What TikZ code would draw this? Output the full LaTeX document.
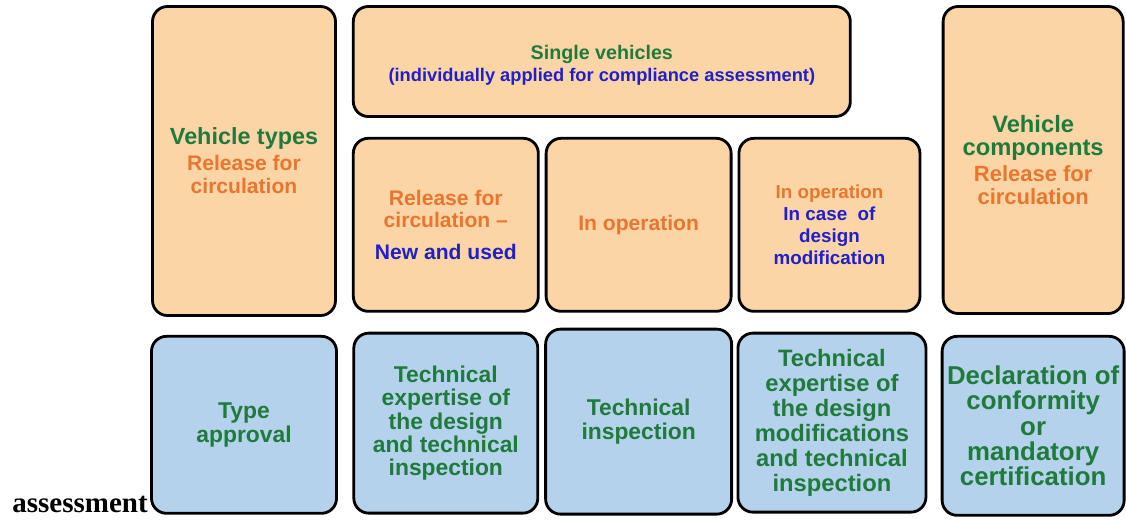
\documentclass[tikz,border=0pt]{standalone}
\usepackage{xcolor}
\usepackage{fontspec}
\setmainfont{Liberation Sans}
\newfontfamily\timesbold{Liberation Serif}
\usetikzlibrary{positioning}

\definecolor{boxpeach}{RGB}{252,213,167}
\definecolor{boxblue}{RGB}{180,210,236}
\definecolor{txtgreen}{RGB}{31,122,60}
\definecolor{txtorange}{RGB}{232,118,46}
\definecolor{txtblue}{RGB}{32,32,200}

\newcommand{\grn}[1]{\textcolor{txtgreen}{#1}}
\newcommand{\org}[1]{\textcolor{txtorange}{#1}}
\newcommand{\blu}[1]{\textcolor{txtblue}{#1}}
\newcommand{\fsz}[2]{\fontsize{#1}{#2}\selectfont}

\begin{document}
\begin{tikzpicture}[x=0.2mm,y=-0.2mm,
        peachbox/.style={draw=black,line width=1.6pt,rounded corners=3mm,fill=boxpeach,align=center,font=\bfseries,inner sep=0pt},
        bluebox/.style={draw=black,line width=1.6pt,rounded corners=3mm,fill=boxblue,align=center,font=\bfseries,text=txtgreen,inner sep=0pt}]
        \useasboundingbox (0,0) rectangle (1126,520);

        % upper row
        \node[peachbox,minimum width=3.66cm,minimum height=6.18cm,font=\bfseries\fsz{13.3}{13.5}] (types) at (244,161)
            {\grn{Vehicle types}\\[1pt] \org{\fsz{12}{12}Release for}\\ \org{\fsz{12}{12}circulation}};

        \node[peachbox,right=3mm of types.north east,anchor=north west,minimum width=9.94cm,minimum height=2.2cm,font=\bfseries\fsz{11.2}{12.5}] (single)
            {\mbox{}\\[-0.6pt] \grn{Single vehicles}\\ \blu{\fsz{10.4}{10.4}(individually applied for compliance assessment)}};

        \node[peachbox,below=3.8mm of single.south west,anchor=north west,minimum width=3.7cm,minimum height=3.46cm,font=\bfseries\fsz{12}{12.5}] (relcirc)
            {\org{Release for}\\ \org{circulation --}\\[6pt] \blu{New and used}};
        \node[peachbox,right=1mm of relcirc,minimum width=3.7cm,minimum height=3.46cm,font=\bfseries\fsz{12}{12.5}] (inop)
            {\org{In operation}};
        \node[peachbox,right=1mm of inop,minimum width=3.62cm,minimum height=3.46cm,font=\bfseries\fsz{10.7}{12.5}] (inmod)
            {\org{In operation}\\ \blu{In case~~of}\\ \blu{design}\\ \blu{modification}};

        \node[peachbox,right=1.8cm of single.north east,anchor=north west,minimum width=3.6cm,minimum height=6.14cm,font=\bfseries\fsz{13.5}{13}] (comps)
            {\grn{Vehicle}\\ \grn{components}\\[2pt] \org{\fsz{12.5}{12.5}Release for}\\ \org{\fsz{12.5}{12.5}circulation}};

        % lower row
        \node[bluebox,below=3.6mm of types,minimum width=3.7cm,minimum height=3.54cm,font=\bfseries\fsz{13}{13.5}] (appr)
            {Type\\ approval};
        \node[bluebox,below=3.8mm of relcirc,minimum width=3.68cm,minimum height=3.6cm,font=\bfseries\fsz{13}{13.2}] (techexp)
            {Technical\\ expertise of\\ the design\\ and technical\\ inspection};
        \node[bluebox,below=3mm of inop,minimum width=3.72cm,minimum height=3.7cm,font=\bfseries\fsz{13}{13.2}] (techinsp)
            {Technical\\ inspection};
        \node[bluebox,below=3.8mm of inmod,xshift=0.5mm,minimum width=3.76cm,minimum height=3.58cm,font=\bfseries\fsz{13.5}{14.2}] (techmod)
            {Technical\\ expertise of\\ the design\\ modifications\\ and technical\\ inspection};
        \node[bluebox,below=4mm of comps,minimum width=3.64cm,minimum height=3.58cm,font=\bfseries\fsz{14.7}{14.4}] (declar)
            {Declaration of\\ conformity\\ or\\ mandatory\\ certification};

        \node[left=0.4mm of appr.south west,anchor=base east,inner sep=0pt,yshift=0.5mm,font=\timesbold\bfseries\fsz{16.5}{18}] (assess) {assessment};
        %\draw [help lines] (0,0) grid (1126,520);
\end{tikzpicture}
\end{document}
